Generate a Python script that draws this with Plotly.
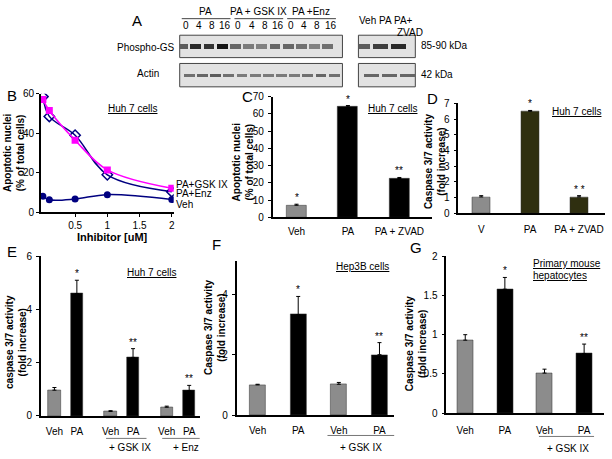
import plotly.graph_objects as go

W, H = 612, 459
FONT = "Liberation Sans, Arial, sans-serif"

# ------------------------------------------------------------------ data
# Panel A (western blots; band intensities 0..1)
blot_times = ["0", "4", "8", "16", "0", "4", "8", "16", "0", "4", "8", "16"]
blot_groups = ["PA", "PA + GSK IX", "PA +Enz"]
phospho_left = [0.60, 0.85, 0.80, 0.95, 0.55, 0.45, 0.42, 0.55, 0.55, 0.50, 0.42, 0.50]
actin_left = [0.50, 0.55, 0.60, 0.50, 0.45, 0.45, 0.45, 0.45, 0.45, 0.50, 0.55, 0.50]
blot2_lanes = ["Veh", "PA", "PA+"]
phospho_right = [0.60, 0.75, 0.85]
actin_right = [0.55, 0.55, 0.55]
blot_rows = ["Phospho-GS", "Actin"]
blot_kda = ["85-90 kDa", "42 kDa"]

# Panel B
b_x = [0, 0.1, 0.5, 1, 2]
b_gsk = [57.0, 51.5, 36.5, 21.5, 12.2]
b_enz = [58.5, 48.5, 39.0, 19.0, 10.5]
b_veh = [8.2, 6.4, 6.8, 9.0, 6.5]
b_names = ["PA+GSK IX", "PA+Enz", "Veh"]

# Panel C
c_cats = ["Veh", "PA", "PA + ZVAD"]
c_vals = [7.0, 64.0, 22.5]
c_err = [0.6, 0.8, 0.6]
c_stars = ["*", "*", "**"]

# Panel D
d_cats = ["V", "PA", "PA + ZVAD"]
d_vals = [1.05, 6.5, 1.05]
d_err = [0.08, 0.05, 0.08]
d_stars = ["", "*", "* *"]

# Panel E
e_cats = ["Veh", "PA", "Veh", "PA", "Veh", "PA"]
e_vals = [0.97, 4.6, 0.17, 2.2, 0.33, 0.95]
e_err = [0.10, 0.50, 0.03, 0.33, 0.04, 0.20]
e_stars = ["", "*", "", "**", "", "**"]
e_groups = ["", "+ GSK IX", "+ Enz"]

# Panel F
f_cats = ["Veh", "PA", "Veh", "PA"]
f_vals = [1.0, 3.33, 1.02, 2.0]
f_err = [0.02, 0.60, 0.06, 0.40]
f_stars = ["", "*", "", "**"]
f_groups = ["", "+ GSK IX"]

# Panel G
g_cats = ["Veh", "PA", "Veh", "PA"]
g_vals = [0.93, 1.58, 0.51, 0.76]
g_err = [0.07, 0.15, 0.05, 0.12]
g_stars = ["", "*", "", "**"]
g_groups = ["", "+ GSK IX"]

# ------------------------------------------------------------------ helpers
def px(x):
    return x / W

def py(y):
    return 1 - y / H

def dom_x(a, b):
    return [a / W, b / W]

def dom_y(top, bottom):
    return [1 - bottom / H, 1 - top / H]

fig = go.Figure()
annotations = []
shapes = []

def ann(text, x, y, size=10, bold=False, xa="center", ya="middle", angle=0,
        xref="paper", yref="paper", yshift=0, align="center"):
    if bold:
        text = "<b>" + text + "</b>"
    annotations.append(dict(
        text=text, x=(px(x) if xref == "paper" else x),
        y=(py(y) if yref == "paper" else y), xref=xref, yref=yref,
        xanchor=xa, yanchor=ya, showarrow=False, textangle=angle,
        yshift=yshift, align=align, borderpad=0,
        font=dict(family=FONT, size=size, color="black")))

def hline(x0, x1, y, xref="paper", color="black", width=1):
    shapes.append(dict(type="line", xref=xref, yref="paper",
                       x0=(px(x0) if xref == "paper" else x0),
                       x1=(px(x1) if xref == "paper" else x1),
                       y0=py(y), y1=py(y), line=dict(color=color, width=width)))

def rect(x0, x1, y0, y1):
    shapes.append(dict(type="rect", xref="paper", yref="paper",
                       x0=px(x0), x1=px(x1), y0=py(y1), y1=py(y0),
                       fillcolor="#e2e2e2", line=dict(color="#444", width=1),
                       layer="below"))

def gray(i):
    g = int(round(215 - 205 * i))
    return f"rgb({g},{g},{g})"

AX = dict(showline=True, linecolor="black", linewidth=1.5, showgrid=False,
          zeroline=False, fixedrange=True,
          tickfont=dict(family=FONT, size=10, color="black"))

layout_axes = {}

def set_axes(n, xdom, ydom, xrange, yrange, xkw=None, ykw=None, visible=True):
    xname = "xaxis" if n == 1 else f"xaxis{n}"
    yname = "yaxis" if n == 1 else f"yaxis{n}"
    anchor_x = "x" if n == 1 else f"x{n}"
    anchor_y = "y" if n == 1 else f"y{n}"
    xa = dict(AX, domain=xdom, range=xrange, anchor=anchor_y)
    ya = dict(AX, domain=ydom, range=yrange, anchor=anchor_x)
    if xkw:
        xa.update(xkw)
    if ykw:
        ya.update(ykw)
    if not visible:
        xa["visible"] = False
        ya["visible"] = False
    layout_axes[xname] = xa
    layout_axes[yname] = ya
    return anchor_x, anchor_y

def bar_range(left, right, c0, unit):
    return [(left - c0) / unit, (right - c0) / unit]

# ------------------------------------------------------------------ Panel A
xa1, ya1 = set_axes(1, dom_x(180, 343), dom_y(30, 83),
                    bar_range(180, 343, 186, 13.2), [-0.39, 1.405], visible=False)
xa2, ya2 = set_axes(2, dom_x(359, 416), dom_y(30, 83),
                    bar_range(359, 416, 368, 18), [-0.39, 1.405], visible=False)
rect(180, 343, 30, 53)
rect(180, 343, 59, 83)
rect(359, 416, 30, 53)
rect(359, 416, 59, 83)

lanes_l = list(range(len(blot_times)))
lanes_r = list(range(len(blot2_lanes)))
for lanes, rows, xa, ya in [(lanes_l, (phospho_left, actin_left), xa1, ya1),
                            (lanes_r, (phospho_right, actin_right), xa2, ya2)]:
    for vals, row, th in [(rows[0], 1, 0.15), (rows[1], 0, 0.11)]:
        fig.add_trace(go.Bar(
            x=lanes, y=[th] * len(vals), base=[row - th / 2] * len(vals),
            width=0.82, xaxis=xa, yaxis=ya,
            marker=dict(color=[gray(v) for v in vals], line=dict(width=0)),
            hoverinfo="skip"))

ann("A", 137, 15, size=15)
for i, t in enumerate(blot_times):
    ann(t, i, 20, size=10, xref=xa1)
for g, name in enumerate(blot_groups):
    first, last = g * 4, g * 4 + 3
    ann(name, (first + last) / 2, 6, size=10, xref=xa1)
    hline(first - 0.3, last + 0.4, 13, xref=xa1, color="#444")
for i, t in enumerate(blot2_lanes):
    ann(t, i, 15, size=10, xref=xa2)
ann("ZVAD", 2.35, 27, size=10, xref=xa2)
ann(blot_rows[0], 146, 43, size=10)
ann(blot_rows[1], 148, 69, size=10)
ann(blot_kda[0], 421, 41, size=10, xa="left")
ann(blot_kda[1], 421, 70, size=10, xa="left")

# ------------------------------------------------------------------ Panel B
xb, yb = set_axes(3, dom_x(41, 174), dom_y(90, 212), [-0.03, 2.03], [0, 60],
                  xkw=dict(tickvals=[0.5, 1, 1.5, 2], ticktext=["0.5", "1", "1.5", "2"],
                           ticks="outside", ticklen=3, tickcolor="black"),
                  ykw=dict(tickvals=[0, 20, 40, 60], ticks="outside", ticklen=3,
                           tickcolor="black"))
fig.add_trace(go.Scatter(x=b_x, y=b_veh, mode="lines+markers", line_shape="spline",
                         line=dict(color="#000080", width=1.5),
                         marker=dict(symbol="circle", size=7, color="#000080"),
                         xaxis=xb, yaxis=yb, name=b_names[2]))
fig.add_trace(go.Scatter(x=b_x, y=b_enz, mode="lines+markers", line_shape="spline",
                         line=dict(color="#000080", width=1.5),
                         marker=dict(symbol="diamond-open", size=8, color="#000080",
                                     line=dict(width=1.5)),
                         xaxis=xb, yaxis=yb, name=b_names[1]))
fig.add_trace(go.Scatter(x=b_x, y=b_gsk, mode="lines+markers", line_shape="spline",
                         line=dict(color="#ff00ff", width=1.5),
                         marker=dict(symbol="square", size=7, color="#ff00ff"),
                         xaxis=xb, yaxis=yb, name=b_names[0]))
ann("B", 12, 92, size=15)
ann("<u>Huh 7 cells</u>", 133, 105, size=10)
ann(b_names[0], 175, 183, size=10, xa="left")
ann(b_names[1], 175, 193, size=10, xa="left")
ann(b_names[2], 175, 204, size=10, xa="left")
ann("Apoptotic nuclei<br>(% of total cells)", 14, 150, size=10, bold=True, angle=-90)
ann("Inhibitor [uM]", 113, 237, size=11, bold=True)

# ------------------------------------------------------------------ bar helper
GRAY = "#8c8c8c"

def bar_panel(n, cats, vals, err, stars, xdom_px, ydom_px, c0, unit, yrange,
              width, yticks, positions=None, pa_color="black", standoff=4):
    pos = positions if positions is not None else list(range(len(cats)))
    xr = bar_range(xdom_px[0], xdom_px[1], c0, unit)
    xa, ya = set_axes(n, dom_x(*xdom_px), dom_y(*ydom_px), xr, yrange,
                      xkw=dict(tickvals=pos, ticktext=cats, ticks="",
                               ticklabelstandoff=standoff),
                      ykw=dict(tickvals=yticks, ticks="outside", ticklen=3,
                               tickcolor="black", ticklabelstandoff=2))
    colors = [GRAY if c in ("Veh", "V") else pa_color for c in cats]
    fig.add_trace(go.Bar(
        x=pos, y=vals, width=width, xaxis=xa, yaxis=ya,
        marker=dict(color=colors, line=dict(color="#333", width=0.5)),
        error_y=dict(type="data", array=err, arrayminus=[0] * len(err),
                     symmetric=False, color="black", thickness=1, width=2)))
    for p, v, e, s in zip(pos, vals, err, stars):
        if s:
            ann(s, p, v + e, size=10, xref=xa, yref=ya, ya="bottom", yshift=0)
    return xa, ya, pos

# ------------------------------------------------------------------ Panel C
xc, yc, _ = bar_panel(4, c_cats, c_vals, c_err, c_stars, (273, 433), (93, 217),
                      297, 51.5, [0, 70], 0.39, list(range(0, 71, 10)), standoff=4)
ann("C", 248, 93, size=15)
ann("<u>Huh 7 cells</u>", 393, 105, size=10)
ann("Apoptotic nuclei<br>(% of total cells)", 243, 160, size=10, bold=True, angle=-90)

# ------------------------------------------------------------------ Panel D
xd, yd, _ = bar_panel(5, d_cats, d_vals, d_err, d_stars, (459, 606), (100, 213),
                      482, 49.0, [0, 7], 0.38, list(range(0, 8)),
                      pa_color="#2f2f10", standoff=6)
ann("D", 433, 95, size=15)
ann("<u>Huh 7 cells</u>", 577, 108, size=10)
ann("Caspase 3/7 activity<br>(fold increase)", 436, 160, size=10, bold=True, angle=-90)

# ------------------------------------------------------------------ Panel E
e_pos = [(i // 2) * 2.5 + (i % 2) for i in range(len(e_cats))]
xe, ye, _ = bar_panel(6, e_cats, e_vals, e_err, e_stars, (41, 200), (257, 421),
                      54.5, 22.5, [0, 6], 0.55, [0, 2, 4, 6], positions=e_pos,
                      standoff=5)
ann("E", 12, 252, size=15)
ann("<u>Huh 7 cells</u>", 152, 274, size=10)
ann("caspase 3/7 activity<br>(fold increase)", 16, 345, size=10, bold=True, angle=-90)
for g, name in enumerate(e_groups):
    if name:
        a, b = e_pos[2 * g], e_pos[2 * g + 1]
        hline(a - 0.2, b + 0.6, 444, xref=xe, color="#777")
        ann(name, (a + b) / 2 + 0.35, 453, size=10, xref=xe)

# ------------------------------------------------------------------ Panel F
xf, yf, f_pos = bar_panel(7, f_cats, f_vals, f_err, f_stars, (237, 395), (262, 420),
                          258, 40.7, [0, 5.1], 0.39, [0, 2, 4], standoff=5)
ann("F", 217, 245, size=15)
ann("<u>Hep3B cells</u>", 363, 267, size=10)
ann("Caspase 3/7 activity<br>(fold increase)", 216, 330, size=10, bold=True, angle=-90)
for g, name in enumerate(f_groups):
    if name:
        a, b = f_pos[2 * g], f_pos[2 * g + 1]
        hline(a - 0.28, b + 0.37, 441, xref=xf, color="#777")
        ann(name, (a + b) / 2 + 0.05, 453, size=10, xref=xf)

# ------------------------------------------------------------------ Panel G
xg, yg, g_pos = bar_panel(8, g_cats, g_vals, g_err, g_stars, (447, 605), (257, 418),
                          466, 39.7, [0, 2], 0.40, [0, 0.5, 1, 1.5, 2], standoff=7)
ann("G", 417, 248, size=15)
ann("<u>Primary mouse</u>", 533, 264, size=10, xa="left")
ann("<u>hepatocytes</u>", 533, 277, size=10, xa="left")
ann("Caspase 3/7 activity<br>(fold increase)", 417, 347, size=10, bold=True, angle=-90)
for g, name in enumerate(g_groups):
    if name:
        a, b = g_pos[2 * g], g_pos[2 * g + 1]
        hline(a - 0.14, b + 0.25, 442, xref=xg, color="#777")
        ann(name, (a + b) / 2 + 0.1, 454, size=10, xref=xg)

# ------------------------------------------------------------------ layout
fig.update_layout(
    width=W, height=H, margin=dict(l=0, r=0, t=0, b=0),
    paper_bgcolor="white", plot_bgcolor="white", showlegend=False,
    font=dict(family=FONT, size=10, color="black"),
    annotations=annotations, shapes=shapes, bargap=0,
    **layout_axes)

fig.write_html("out.html", config={"displayModeBar": False},
               post_script="document.body.style.margin='0px';")
